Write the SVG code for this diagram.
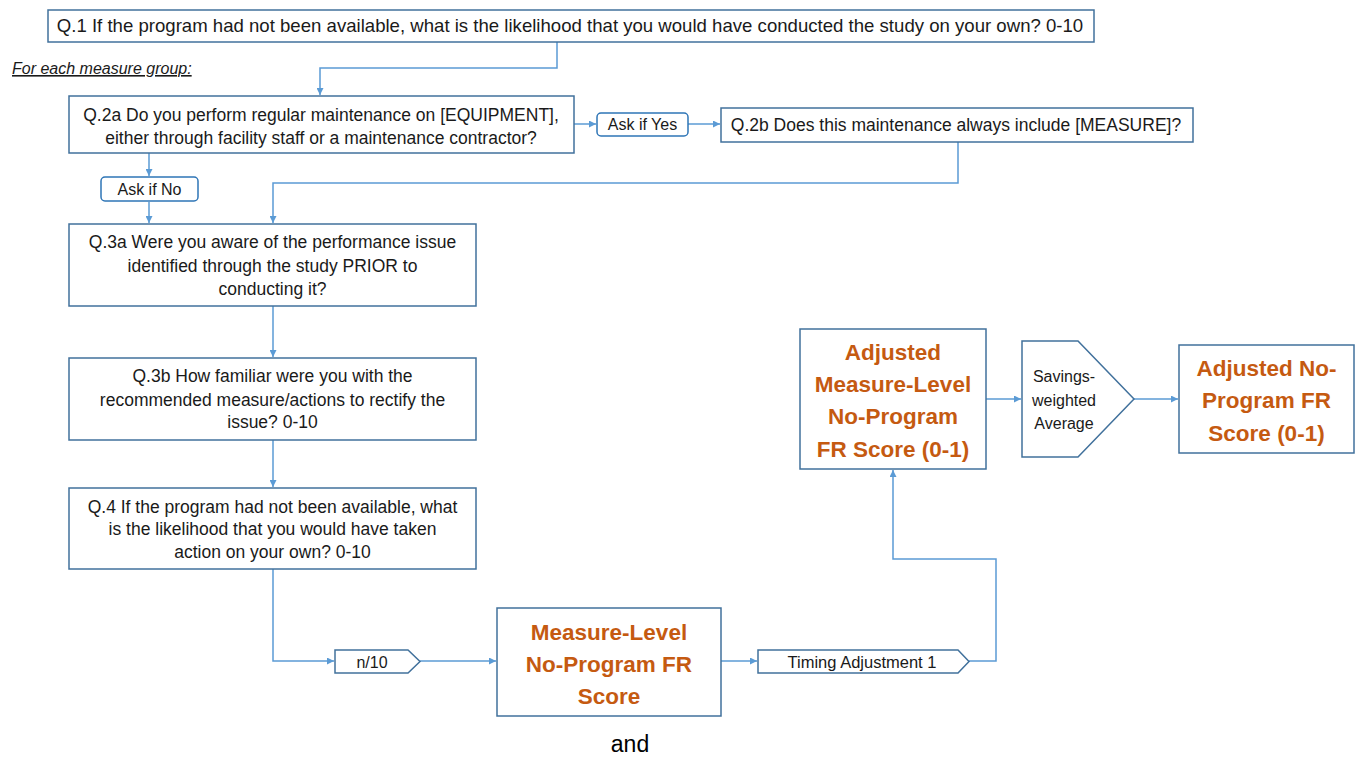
<svg xmlns="http://www.w3.org/2000/svg" width="1363" height="758" viewBox="0 0 1363 758">
  <style>
    .box { fill: #ffffff; stroke: #41719C; stroke-width: 1.5; }
    .tag { fill: #ffffff; stroke: #2E75B6; stroke-width: 1.5; }
    .q { font-family: "Liberation Sans", Arial, sans-serif; font-size: 17.5px; fill: #1a1a1a; text-anchor: middle; }
    .wide { font-size: 18.6px; }
    .small { font-family: "Liberation Sans", Arial, sans-serif; font-size: 16px; fill: #1a1a1a; text-anchor: middle; }
    .score { font-family: "Liberation Sans", Arial, sans-serif; font-size: 22.5px; font-weight: bold; fill: #C55A11; text-anchor: middle; }
    .note { font-family: "Liberation Sans", Arial, sans-serif; font-size: 16px; font-style: italic; text-decoration: underline; fill: #1a1a1a; }
    .plain { font-family: "Liberation Sans", Arial, sans-serif; font-size: 23px; fill: #000000; text-anchor: middle; }
    .link { fill: none; stroke: #5B9BD5; stroke-width: 1.5; }
  </style>
  <defs>
    <marker id="arrow" viewBox="0 0 10 10" refX="10" refY="5" markerWidth="7" markerHeight="7" markerUnits="userSpaceOnUse" orient="auto">
      <path d="M0 0 L10 5 L0 10 Z" fill="#5B9BD5"/>
    </marker>
  </defs>

  <rect width="1363" height="758" fill="#ffffff"/>

  <!-- connectors -->
  <g id="connectors">
    <path class="link" d="M557 42 V68 H320 V95" marker-end="url(#arrow)"/>
    <path class="link" d="M574 124 H596" marker-end="url(#arrow)"/>
    <path class="link" d="M688 124 H720" marker-end="url(#arrow)"/>
    <path class="link" d="M958 142 V183 H273 V223" marker-end="url(#arrow)"/>
    <path class="link" d="M149 153 V176" marker-end="url(#arrow)"/>
    <path class="link" d="M149 202 V223" marker-end="url(#arrow)"/>
    <path class="link" d="M273 306 V357" marker-end="url(#arrow)"/>
    <path class="link" d="M273 440 V487" marker-end="url(#arrow)"/>
    <path class="link" d="M273 569 V661 H334" marker-end="url(#arrow)"/>
    <path class="link" d="M420 661 H496" marker-end="url(#arrow)"/>
    <path class="link" d="M721 661 H757" marker-end="url(#arrow)"/>
    <path class="link" d="M969 661 H996 V559 H893 V470" marker-end="url(#arrow)"/>
    <path class="link" d="M986 399 H1021" marker-end="url(#arrow)"/>
    <path class="link" d="M1134 399 H1178" marker-end="url(#arrow)"/>
  </g>

  <g id="q1">
    <rect class="box" x="48" y="10" width="1046" height="32"/>
    <text class="q wide" x="570" y="32">Q.1 If the program had not been available, what is the likelihood that you would have conducted the study on your own? 0-10</text>
  </g>

  <g id="measure-group-note">
    <text class="note" x="12" y="74">For each measure group:</text>
  </g>

  <g id="q2a">
    <rect class="box" x="69" y="96" width="505" height="57"/>
    <text class="q" x="321" y="121">Q.2a Do you perform regular maintenance on [EQUIPMENT],</text>
    <text class="q" x="321" y="144">either through facility staff or a maintenance contractor?</text>
  </g>

  <g id="ask-if-yes">
    <rect class="tag" x="597" y="113" width="91" height="23" rx="4"/>
    <text class="small" x="642.5" y="130">Ask if Yes</text>
  </g>

  <g id="q2b">
    <rect class="box" x="721" y="108" width="472" height="34"/>
    <text class="q" x="956" y="131">Q.2b Does this maintenance always include [MEASURE]?</text>
  </g>

  <g id="ask-if-no">
    <rect class="tag" x="101" y="177" width="97" height="24" rx="4"/>
    <text class="small" x="149.5" y="195">Ask if No</text>
  </g>

  <g id="q3a">
    <rect class="box" x="69" y="224" width="407" height="82"/>
    <text class="q" x="272.5" y="248">Q.3a Were you aware of the performance issue</text>
    <text class="q" x="272.5" y="272">identified through the study PRIOR to</text>
    <text class="q" x="272.5" y="295">conducting it?</text>
  </g>

  <g id="q3b">
    <rect class="box" x="69" y="358" width="407" height="82"/>
    <text class="q" x="272.5" y="382">Q.3b How familiar were you with the</text>
    <text class="q" x="272.5" y="406">recommended measure/actions to rectify the</text>
    <text class="q" x="272.5" y="428">issue? 0-10</text>
  </g>

  <g id="q4">
    <rect class="box" x="69" y="488" width="407" height="81"/>
    <text class="q" x="272.5" y="513">Q.4 If the program had not been available, what</text>
    <text class="q" x="272.5" y="535">is the likelihood that you would have taken</text>
    <text class="q" x="272.5" y="558">action on your own? 0-10</text>
  </g>

  <g id="n-over-10">
    <path class="box" d="M335 650 H408 L420 661.5 L408 673 H335 Z"/>
    <text class="small" x="372" y="668">n/10</text>
  </g>

  <g id="measure-level-score">
    <rect class="box" x="497" y="608" width="224" height="108"/>
    <text class="score" x="609" y="640">Measure-Level</text>
    <text class="score" x="609" y="672">No-Program FR</text>
    <text class="score" x="609" y="704">Score</text>
  </g>

  <g id="timing-adjustment">
    <path class="box" d="M758 650 H958 L969 661.5 L958 673 H758 Z"/>
    <text class="small" x="862" y="668" style="font-size:16.5px">Timing Adjustment 1</text>
  </g>

  <g id="adjusted-measure-score">
    <rect class="box" x="800" y="329" width="186" height="140"/>
    <text class="score" x="893" y="360">Adjusted</text>
    <text class="score" x="893" y="392">Measure-Level</text>
    <text class="score" x="893" y="424">No-Program</text>
    <text class="score" x="893" y="457">FR Score (0-1)</text>
  </g>

  <g id="savings-weighted">
    <path class="box" d="M1022 341 H1078 L1134 399 L1078 457 H1022 Z"/>
    <text class="small" x="1064" y="382">Savings-</text>
    <text class="small" x="1064" y="406">weighted</text>
    <text class="small" x="1064" y="429">Average</text>
  </g>

  <g id="adjusted-score">
    <rect class="box" x="1179" y="345" width="175" height="108"/>
    <text class="score" x="1266.5" y="376">Adjusted No-</text>
    <text class="score" x="1266.5" y="408">Program FR</text>
    <text class="score" x="1266.5" y="441">Score (0-1)</text>
  </g>

  <g id="footer">
    <text class="plain" x="630" y="752">and</text>
  </g>
</svg>
